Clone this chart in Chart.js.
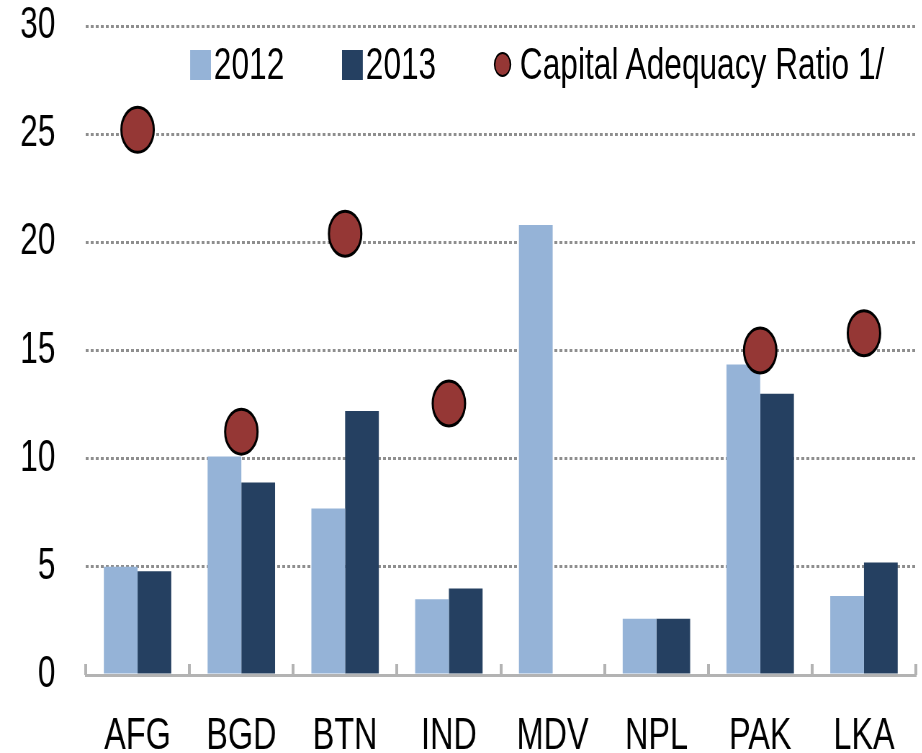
<!DOCTYPE html>
<html>
<head>
<meta charset="utf-8">
<script src="https://cdn.jsdelivr.net/npm/chart.js@4.4.1/dist/chart.umd.min.js"></script>
<style>
  html, body { margin: 0; padding: 0; background: #fff; overflow: hidden; }
  /* the reference is a horizontally squeezed Excel chart: draw wide, then squeeze */
  #wrap { position: relative; width: 1280px; height: 753px; transform: scaleX(0.72); transform-origin: 0 0; }
  #legend { position: absolute; left: 0; top: 0; width: 1280px; height: 0; font-family: "Liberation Sans", Arial, sans-serif; font-size: 44px; color: #000; }
  .lg { position: absolute; top: 39px; height: 50px; line-height: 50px; white-space: nowrap; }
  .sw { display: inline-block; vertical-align: middle; width: 29px; height: 30px; margin-right: 4px; position: relative; top: -2px; }
  .dot { display: inline-block; vertical-align: middle; width: 20px; height: 21px; border: 2px solid #000; border-radius: 50%; background: #953735; margin-right: 12px; position: relative; top: -3px; }
</style>
</head>
<body>
<div id="wrap">
  <canvas id="c" width="1280" height="753"></canvas>
  <div id="legend"></div>
</div>
<script>
  // data
  var countries = ['AFG', 'BGD', 'BTN', 'IND', 'MDV', 'NPL', 'PAK', 'LKA'];
  var y2012 = [5.0, 10.1, 7.7, 3.5, 20.8, 2.6, 14.35, 3.65];
  var y2013 = [4.8, 8.9, 12.2, 4.0, null, 2.6, 13.0, 5.2];
  var car = [25.2, 11.25, 20.4, 12.55, null, null, 15.0, 15.8];
  var yTicks = [0, 5, 10, 15, 20, 25, 30];

  var FONT = '"Liberation Sans", Arial, sans-serif';
  var C12 = '#95b3d7', C13 = '#254061', CDOT = '#953735';

  // small upward ticks at category borders on the x axis
  var borderTicks = {
    id: 'borderTicks',
    afterDatasetsDraw: function (chart) {
      var x = chart.scales.x, ctx = chart.ctx, b = chart.chartArea.bottom;
      var half = (x.getPixelForTick(1) - x.getPixelForTick(0)) / 2;
      ctx.save();
      ctx.strokeStyle = '#b3b3b3'; ctx.lineWidth = 4;
      for (var i = 0; i <= countries.length; i++) {
        var px = Math.round(x.getPixelForTick(0) - half + i * half * 2);
        ctx.beginPath(); ctx.moveTo(px, b); ctx.lineTo(px, b - 11); ctx.stroke();
      }
      ctx.restore();
    }
  };

  new Chart(document.getElementById('c'), {
    type: 'bar',
    data: {
      labels: countries,
      datasets: [
        { type: 'line', label: 'Capital Adequacy Ratio 1/', data: car, showLine: false,
          pointRadius: 22.5, pointBackgroundColor: CDOT, pointBorderColor: '#000', pointBorderWidth: 3, order: 0 },
        { label: '2012', data: y2012, backgroundColor: C12, categoryPercentage: 0.65, barPercentage: 1, order: 1 },
        { label: '2013', data: y2013, backgroundColor: C13, categoryPercentage: 0.65, barPercentage: 1, order: 1 }
      ]
    },
    options: {
      responsive: false, animation: false,
      layout: { autoPadding: false, padding: { top: 1, right: 8, left: 0, bottom: 0 } },
      plugins: { legend: { display: false }, tooltip: { enabled: false } },
      scales: {
        x: {
          grid: { display: false },
          border: { display: true, color: '#b3b3b3', width: 3 },
          ticks: { color: '#000', font: { family: FONT, size: 45 }, padding: 27, maxRotation: 0 },
          afterFit: function (s) { s.height = 78; }
        },
        y: {
          min: 0, max: 30,
          afterBuildTicks: function (s) { s.ticks = yTicks.map(function (v) { return { value: v }; }); },
          grid: {
            color: function (c) { return c.tick && c.tick.value === 0 ? 'rgba(0,0,0,0)' : '#8e8e8e'; },
            lineWidth: 3, drawTicks: false
          },
          border: { display: false, dash: [4, 3] },
          ticks: { color: '#000', font: { family: FONT, size: 44 }, padding: 42 },
          afterFit: function (s) { s.width = 119; s.paddingTop = 26; }
        }
      }
    },
    plugins: [borderTicks]
  });

  // legend drawn as html over the plot, as in the reference
  var lg = document.getElementById('legend');
  lg.innerHTML =
    '<div class="lg" style="left:264px"><span class="sw" style="background:' + C12 + '"></span>2012</div>' +
    '<div class="lg" style="left:475px"><span class="sw" style="background:' + C13 + '"></span>2013</div>' +
    '<div class="lg" style="left:686px"><span class="dot"></span>Capital Adequacy Ratio 1/</div>';
</script>
</body>
</html>
